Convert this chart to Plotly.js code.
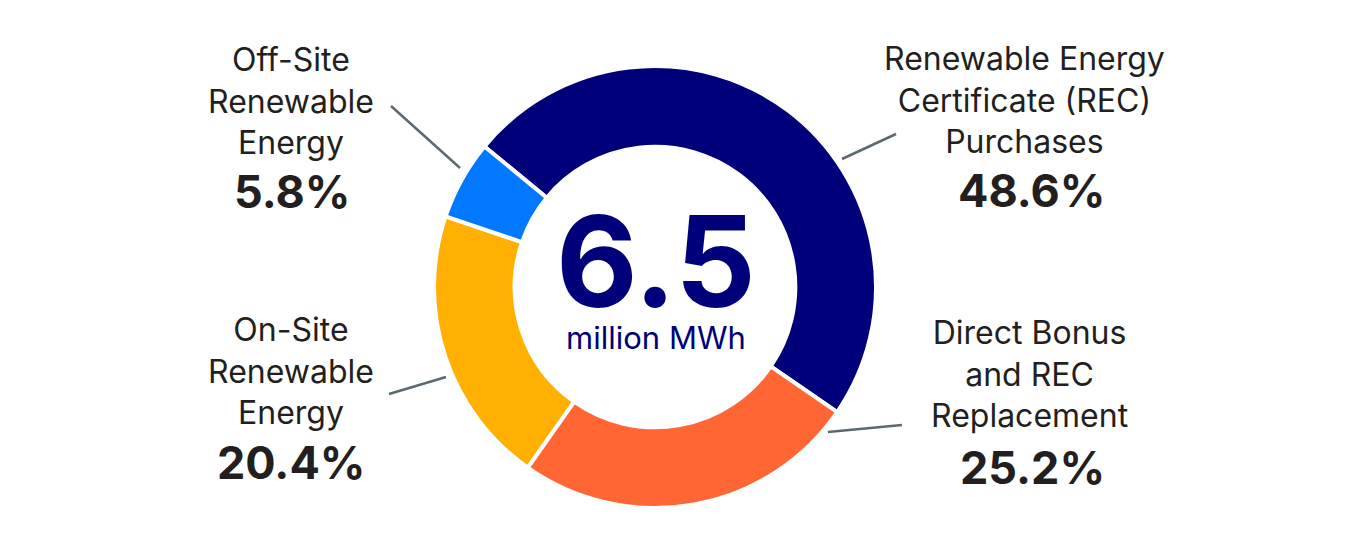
<!DOCTYPE html>
<html>
<head>
<meta charset="utf-8">
<script src="https://cdn.plot.ly/plotly-3.0.1.min.js"></script>
<style>html,body{margin:0;padding:0;background:#fff;}#chart{width:1350px;height:558px;}</style>
</head>
<body>
<div id="chart"></div>
<script>
// Data
const categories = ["Renewable Energy<br>Certificate (REC)<br>Purchases", "Direct Bonus<br>and REC<br>Replacement", "On-Site<br>Renewable<br>Energy", "Off-Site<br>Renewable<br>Energy"];
const shares = [48.6, 25.2, 20.4, 5.8];
const sliceColors = ["#00007A", "#FF6633", "#FFB000", "#0078FF"];
const totalValue = "6.5";
const totalUnit = "million MWh";

// Label placement (pixels in 1350x558 canvas)
const W = 1350, H = 558;
const labelPos = [
  {x: 1024, y: 100, px: 1031, py: 190, line: [[842, 159], [896, 134]]},
  {x: 1029, y: 374, px: 1032, py: 467, line: [[828, 432], [902, 425]]},
  {x: 291, y: 371, px: 291, py: 462, line: [[389, 394], [446, 377]]},
  {x: 291, y: 101, px: 292, py: 191, line: [[391, 106], [460, 168]]}
];
const fx = v => v / W, fy = v => 1 - v / H;
const FONT = "Inter, 'Noto Sans', sans-serif";

const annotations = [];
const shapes = [];
categories.forEach((c, i) => {
  const p = labelPos[i];
  annotations.push({text: c, x: fx(p.x), y: fy(p.y), xref: "paper", yref: "paper",
    xanchor: "center", yanchor: "middle", showarrow: false, align: "center",
    font: {family: FONT, size: 32, color: "#231F20"}});
  annotations.push({text: "<b>" + shares[i].toFixed(1) + "%</b>", x: fx(p.px), y: fy(p.py), xref: "paper", yref: "paper",
    xanchor: "center", yanchor: "middle", showarrow: false,
    font: {family: FONT, size: 45, color: "#231F20"}});
  shapes.push({type: "line", xref: "paper", yref: "paper",
    x0: fx(p.line[0][0]), y0: fy(p.line[0][1]), x1: fx(p.line[1][0]), y1: fy(p.line[1][1]),
    line: {color: "#5B6A70", width: 2.5}});
});
annotations.push({
  text: "<span style='font-size:126px;font-weight:bold'>" + totalValue + "</span><br><span style='font-size:31px'>" + totalUnit + "</span>",
  x: fx(656), y: fy(270), xref: "paper", yref: "paper",
  xanchor: "center", yanchor: "middle", showarrow: false, align: "center",
  font: {family: FONT, size: 32, color: "#00007A"}});

const trace = {
  type: "pie",
  labels: categories,
  values: shares,
  hole: 0.635,
  sort: false,
  direction: "clockwise",
  rotation: -50.5,
  textinfo: "none",
  hoverinfo: "label+percent",
  marker: {colors: sliceColors, line: {color: "#FFFFFF", width: 4}},
  domain: {x: [434 / W, 876 / W], y: [1 - 508 / H, 1 - 66 / H]},
  showlegend: false
};

Plotly.newPlot("chart", [trace], {
  width: W, height: H,
  margin: {l: 0, r: 0, t: 0, b: 0},
  paper_bgcolor: "#FFFFFF",
  showlegend: false,
  annotations: annotations,
  shapes: shapes
}, {displayModeBar: false, staticPlot: true});
</script>
</body>
</html>
